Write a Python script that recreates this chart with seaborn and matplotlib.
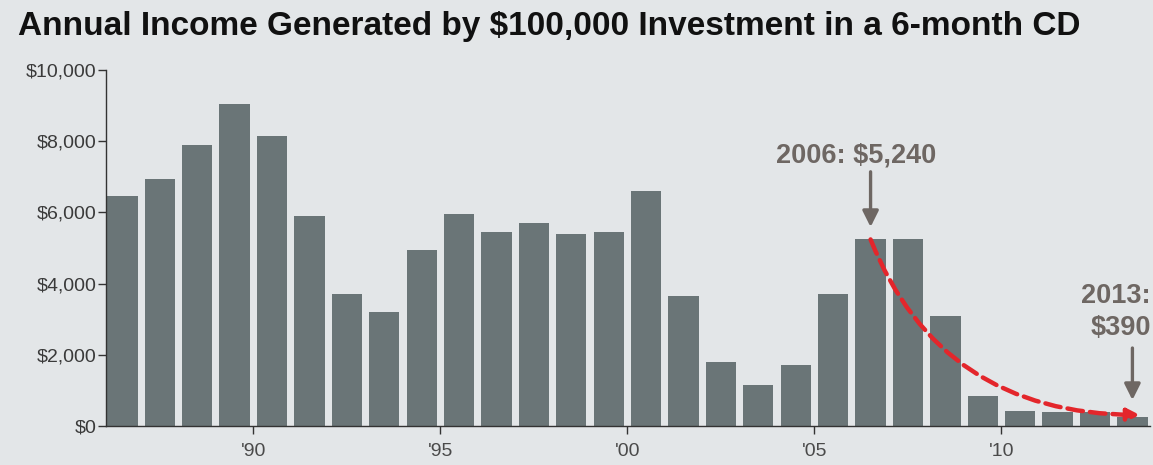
import matplotlib
matplotlib.use("Agg")
import matplotlib.pyplot as plt
from matplotlib.patches import FancyArrowPatch
from matplotlib.path import Path
import seaborn as sns
import pandas as pd

years = list(range(1986, 2014))
income = [6450, 6950, 7900, 9050, 8150, 5900, 3700, 3200, 4950, 5950,
          5450, 5700, 5400, 5450, 6600, 3650, 1800, 1150, 1700, 3700,
          5240, 5240, 3100, 850, 430, 400, 400, 250]
tick_years = [1990, 1995, 2000, 2005, 2010]
tick_labels = ["'90", "'95", "'00", "'05", "'10"]
y_ticks = [0, 2000, 4000, 6000, 8000, 10000]
y_labels = ["$0", "$2,000", "$4,000", "$6,000", "$8,000", "$10,000"]
title = "Annual Income Generated by $100,000 Investment in a 6-month CD"
note_2006 = "2006: $5,240"
note_2013 = "2013:\n$390"

BG = "#e3e6e8"
BAR = "#6a7577"
NOTE = "#6e6763"
RED = "#e3262b"

sns.set_theme(style="white")
plt.rcParams["font.family"] = ["Liberation Sans", "DejaVu Sans"]

df = pd.DataFrame({"year": [str(y) for y in years], "income": income})

fig = plt.figure(figsize=(11.53, 4.65), dpi=100, facecolor=BG)
ax = fig.add_axes([0.0919, 0.0839, 0.9055, 0.7656])
ax.set_facecolor(BG)

sns.barplot(data=df, x="year", y="income", color=BAR, saturation=1,
            width=0.81, ax=ax, linewidth=0)

ax.set_xlim(-0.44, 27.47)
ax.set_ylim(0, 10000)
for s in ["top", "right"]:
    ax.spines[s].set_visible(False)
for s in ["left", "bottom"]:
    ax.spines[s].set_color("#333333")
    ax.spines[s].set_linewidth(1.0)

ax.set_yticks(y_ticks)
ax.set_yticklabels(y_labels, fontsize=14, color="#3a3a3a")
ax.set_xticks([years.index(y) - 0.5 for y in tick_years])
ax.set_xticklabels(tick_labels, fontsize=14, color="#4a4a4a")
ax.tick_params(axis="y", which="major", length=6, width=1, color="#333333",
               left=True, direction="out", pad=1)
ax.tick_params(axis="x", which="major", length=6, width=1, color="#333333",
               bottom=True, direction="out", pad=6)
ax.set_xlabel("")
ax.set_ylabel("")

fig.text(0.0156, 0.943, title, fontsize=24, fontweight="bold", color="#111111",
         ha="left", va="center")

i06 = years.index(2006)
i13 = years.index(2013)
v06 = income[i06]
v13 = income[i13]

# 2006 annotation
ax.annotate("", xy=(i06, v06 + 350), xytext=(i06, v06 + 1900),
            arrowprops=dict(arrowstyle="-|>", color=NOTE, lw=2.4,
                            mutation_scale=24, shrinkA=0, shrinkB=0))
ax.text(i06 - 0.38, v06 + 1980, note_2006, fontsize=19.5, fontweight="bold",
        color=NOTE, ha="center", va="bottom")

# 2013 annotation
ax.annotate("", xy=(i13, v13 + 480), xytext=(i13, v13 + 1940),
            arrowprops=dict(arrowstyle="-|>", color=NOTE, lw=2.4,
                            mutation_scale=24, shrinkA=0, shrinkB=0))
ax.text(i13 + 0.5, v13 + 2130, note_2013, fontsize=19.5, fontweight="bold",
        color=NOTE, ha="right", va="bottom", linespacing=1.3)

# red dashed decline curve
p0 = (i06, v06)
p1 = (i06 + 1.86, v13 + 90)
p2 = (i13 + 0.2, v13 + 60)
path = Path([p0, p1, p2], [Path.MOVETO, Path.CURVE3, Path.CURVE3])
arr = FancyArrowPatch(path=path, arrowstyle="-|>", color=RED, lw=3.2,
                      linestyle=(0, (3.5, 1.6)), mutation_scale=18, zorder=5)
ax.add_patch(arr)

fig.savefig("out.png", dpi=100, facecolor=BG)
